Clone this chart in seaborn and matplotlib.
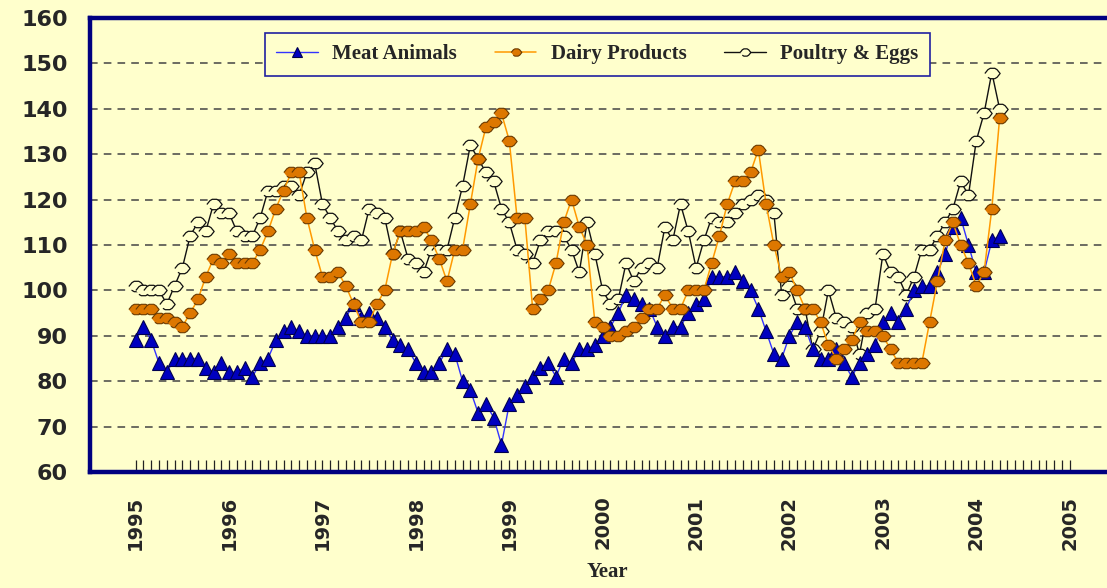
import numpy as np
import matplotlib
matplotlib.use("Agg")
import matplotlib.pyplot as plt
from matplotlib.ticker import FixedLocator
import seaborn as sns

# ── Data: monthly price index, Jan 1995 .. Apr 2004 ──────────────────────────
START_YEAR = 1995

meat_animals = [
    89, 92, 89, 84, 82, 85, 85, 85, 85, 83, 82, 84,
    82, 82, 83, 81, 84, 85, 89, 91, 92, 91, 90, 90,
    90, 90, 92, 94, 97, 94, 95, 94, 92, 89, 88, 87,
    84, 82, 82, 84, 87, 86, 80, 78, 73, 75, 72, 66,
    75, 77, 79, 81, 83, 84, 81, 85, 84, 87, 87, 88,
    90, 92, 95, 99, 98, 97, 96, 92, 90, 92, 92, 95,
    97, 98, 103, 103, 103, 104, 102, 100, 96, 91, 86, 85,
    90, 93, 92, 87, 85, 85, 87, 84, 81, 84, 86, 88,
    93, 95, 93, 96, 100, 101, 101, 104, 108, 114, 116, 110,
    104, 104, 111, 112,
]

dairy_products = [
    96, 96, 96, 94, 94, 93, 92, 95, 98, 103, 107, 106,
    108, 106, 106, 106, 109, 113, 118, 122, 126, 126, 116, 109,
    103, 103, 104, 101, 97, 93, 93, 97, 100, 108, 113, 113,
    113, 114, 111, 107, 102, 109, 109, 119, 129, 136, 137, 139,
    133, 116, 116, 96, 98, 100, 106, 115, 120, 114, 110, 93,
    92, 90, 90, 91, 92, 94, 96, 96, 99, 96, 96, 100,
    100, 100, 106, 112, 119, 124, 124, 126, 131, 119, 110, 103,
    104, 100, 96, 96, 93, 88, 85, 87, 89, 93, 91, 91,
    90, 87, 84, 84, 84, 84, 93, 102, 111, 115, 110, 106,
    101, 104, 118, 138,
]

poultry_eggs = [
    101, 100, 100, 100, 97, 101, 105, 112, 115, 113, 119, 117,
    117, 113, 112, 112, 116, 122, 122, 123, 123, 121, 126, 128,
    119, 116, 113, 111, 112, 111, 118, 117, 116, 108, 113, 107,
    106, 104, 109, 109, 109, 116, 123, 132, 129, 126, 124, 118,
    115, 109, 108, 106, 111, 113, 113, 112, 109, 104, 115, 108,
    100, 97, 98, 106, 102, 105, 106, 105, 114, 111, 119, 113,
    105, 111, 116, 115, 115, 117, 119, 120, 121, 120, 117, 99,
    101, 96, 96, 87, 91, 100, 94, 93, 92, 86, 95, 96,
    108, 104, 103, 99, 103, 109, 109, 112, 115, 118, 124, 121,
    133, 139, 148, 140,
]

years = START_YEAR + np.arange(len(meat_animals)) / 12

# ── Style ─────────────────────────────────────────────────────────────────────
BG    = "#FFFFCC"
NAVY  = "#000080"

sns.set_theme(style="white")
plt.rcParams["font.family"] = ["DejaVu Sans"]

# squashed octagon, a rough match for the "diamond" markers of the original
octo = [(-1, 0), (-0.6, 0.5), (-0.3, 0.68), (0.3, 0.68), (0.6, 0.5),
        (1, 0), (0.6, -0.5), (0.3, -0.68), (-0.3, -0.68), (-0.6, -0.5)]

fig = plt.figure(figsize=(11.07, 5.88), dpi=100, facecolor=BG)
ax = fig.add_axes([0.0813, 0.1973, 0.9356, 0.772])
ax.set_facecolor(BG)

sns.lineplot(x=years, y=meat_animals, ax=ax, label="Meat Animals",
             color="#3333FF", linewidth=1, marker="^", markersize=9.5,
             mfc="#0000C0", mec="#000050", mew=0.8, errorbar=None, zorder=4)
sns.lineplot(x=years, y=dairy_products, ax=ax, label="Dairy Products",
             color="#FF9900", linewidth=1.1, marker=octo, markersize=11,
             mfc="#DD7700", mec="#6B3A00", mew=0.8, errorbar=None, zorder=5)
sns.lineplot(x=years, y=poultry_eggs, ax=ax, label="Poultry & Eggs",
             color="#111111", linewidth=1, marker=octo, markersize=11,
             mfc=BG, mec="#111111", mew=0.9, errorbar=None, zorder=3)

# ── Axes ──────────────────────────────────────────────────────────────────────
ax.set_xlim(1994.511, 2005.6)
ax.set_ylim(60, 160)

ax.yaxis.set_major_locator(FixedLocator(np.arange(60, 161, 10)))
ax.xaxis.set_major_locator(FixedLocator(np.arange(1995, 2006)))
ax.xaxis.set_minor_locator(FixedLocator(1995 + np.arange(0, 121) / 12))

ax.grid(axis="y", linestyle=(0, (5, 4)), color="#444444", linewidth=1.1)
ax.grid(axis="x", visible=False)
ax.set_axisbelow(True)

for side in ["left", "bottom", "top", "right"]:
    ax.spines[side].set_color(NAVY)
    ax.spines[side].set_linewidth(3.2)
    ax.spines[side].set_zorder(6)

ax.tick_params(axis="x", which="both", direction="in", length=9,
               width=0.9, color="#222222", bottom=True, top=False)
ax.tick_params(axis="x", which="major", pad=17)
ax.tick_params(axis="y", length=0, pad=16)

ax.set_xticklabels([str(y) for y in range(1995, 2006)], rotation=90,
                   fontsize=14, fontweight="heavy", ha="center", va="top")
ax.set_yticklabels([str(v) for v in range(60, 161, 10)],
                   fontsize=16, fontweight="bold")

ax.set_xlabel("Year", fontsize=15, fontweight="bold",
              family=["Liberation Serif"], labelpad=9)
ax.set_ylabel("")

leg = ax.legend(loc="center", bbox_to_anchor=(0.49, 0.92), ncol=3,
                frameon=True, fancybox=False, shadow=False,
                facecolor=BG, edgecolor="#2020A0", framealpha=1,
                prop={"family": ["Liberation Serif"], "weight": "bold", "size": 15},
                handlelength=2.0, columnspacing=1.8, markerscale=0.7,
                borderpad=0.55, handletextpad=0.7)
leg.get_frame().set_linewidth(1.2)

fig.savefig("out.png", dpi=100, facecolor=BG)
